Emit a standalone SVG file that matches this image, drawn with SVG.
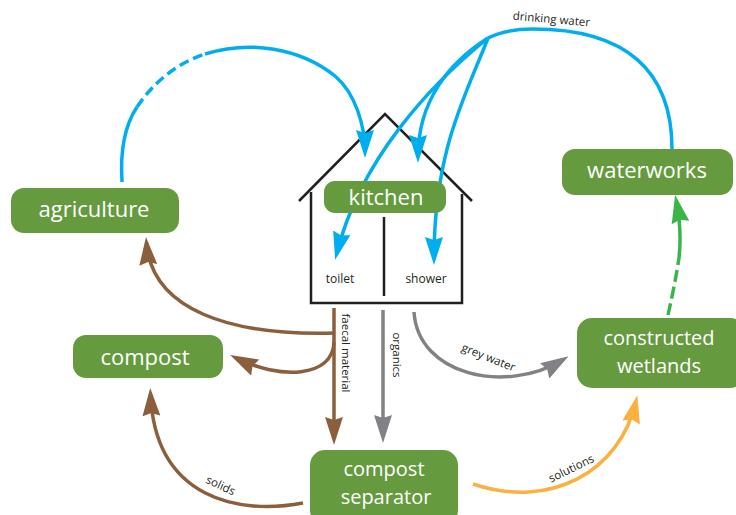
<svg xmlns="http://www.w3.org/2000/svg" width="736" height="515" viewBox="0 0 736 515">
<style>
.node rect{fill:#659a3f}
.node text{font-family:"Open Sans","Noto Sans",sans-serif;font-size:22px;fill:#ffffff;text-anchor:middle}
.node text.two{font-size:20px}
.lbl{font-family:"Open Sans","Noto Sans",sans-serif;font-size:11.5px;fill:#231f20;text-anchor:middle}
.c{fill:none;stroke-width:3.5}
.blue{stroke:#00aeef}
.brown{stroke:#8b5e3c}
.gray{stroke:#808285}
.orange{stroke:#fbb040}
.green{stroke:#39b54a}
.dash{stroke-dasharray:10 5}
.dashg{stroke-dasharray:12 5}
.house{fill:none;stroke:#231f20;stroke-width:2.5}
</style>
<defs>
<marker id="aBlue" markerUnits="userSpaceOnUse" markerWidth="28" markerHeight="18" viewBox="0 0 28 18" refX="22" refY="9" orient="auto"><path d="M0,0 L28,9 L0,18 L3,9 z" fill="#00aeef"/></marker>
<marker id="aBrown" markerUnits="userSpaceOnUse" markerWidth="28" markerHeight="18" viewBox="0 0 28 18" refX="22" refY="9" orient="auto"><path d="M0,0 L28,9 L0,18 L3,9 z" fill="#8b5e3c"/></marker>
<marker id="aGray" markerUnits="userSpaceOnUse" markerWidth="28" markerHeight="18" viewBox="0 0 28 18" refX="22" refY="9" orient="auto"><path d="M0,0 L28,9 L0,18 L3,9 z" fill="#808285"/></marker>
<marker id="aOrange" markerUnits="userSpaceOnUse" markerWidth="28" markerHeight="18" viewBox="0 0 28 18" refX="22" refY="9" orient="auto"><path d="M0,0 L28,9 L0,18 L3,9 z" fill="#fbb040"/></marker>
<marker id="aGreen" markerUnits="userSpaceOnUse" markerWidth="28" markerHeight="18" viewBox="0 0 28 18" refX="22" refY="9" orient="auto"><path d="M0,0 L28,9 L0,18 L3,9 z" fill="#39b54a"/></marker>
</defs>
<rect width="736" height="515" fill="#ffffff"/>

<g id="house">
<polyline class="house" points="299,201 385,114 472,201"/>
<polyline class="house" points="311,192 311,303 462,303 462,194"/>
<line class="house" x1="384" y1="217" x2="384" y2="296"/>
<text class="lbl" x="340" y="283" style="font-size:12px">toilet</text>
<text class="lbl" x="426" y="283" style="font-size:12px">shower</text>
</g>

<g id="connectors">
<!-- agriculture to kitchen -->
<path class="c blue" d="M122,182 C120,150 125,125 137,107"/>
<path class="c blue dash" d="M137,107 C155,80 180,62 205,54"/>
<path class="c blue" d="M205,54 C250,40 300,48 335,76 C355,93 365,125 365,152" marker-end="url(#aBlue)"/>
<!-- drinking water -->
<path class="c blue" d="M672,149 C672,70 625,29 533,29 C512,29 498,33 488,38"/>
<path class="c blue" d="M488,38 C430,85 360,160 336.6,254" marker-end="url(#aBlue)"/>
<path class="c blue" d="M488,38 C450,62 418,100 418,157" marker-end="url(#aBlue)"/>
<path class="c blue" d="M488,38 C466,95 434,150 434,259" marker-end="url(#aBlue)"/>
<text class="lbl" transform="translate(551,23) rotate(5)">drinking water</text>
<!-- faecal material -->
<path class="c brown" d="M334,308 V439" marker-end="url(#aBrown)"/>
<path class="c brown" d="M334,333 C230,336 152,310 146.5,243" marker-end="url(#aBrown)"/>
<path class="c brown" d="M334,342 C333,378 280,380 235.5,357.7" marker-end="url(#aBrown)"/>
<text class="lbl" transform="translate(342,353) rotate(90)">faecal material</text>
<!-- organics -->
<path class="c gray" d="M383,310 V437" marker-end="url(#aGray)"/>
<text class="lbl" transform="translate(393,355) rotate(90)">organics</text>
<!-- grey water -->
<path class="c gray" d="M414,312 C418,375 505,395 563.4,359.4" marker-end="url(#aGray)"/>
<text class="lbl" transform="translate(487,361) rotate(22)">grey water</text>
<!-- solids -->
<path class="c brown" d="M303,503 C240,515 155,500 150.5,394" marker-end="url(#aBrown)"/>
<text class="lbl" transform="translate(219,489) rotate(25)">solids</text>
<!-- solutions -->
<path class="c orange" d="M473,484 C550,510 620,472 636,401" marker-end="url(#aOrange)"/>
<text class="lbl" transform="translate(573,472) rotate(-26)">solutions</text>
<!-- wetlands to waterworks -->
<path class="c green dashg" d="M668,315 C672,297 676,278 679,258"/>
<path class="c green" d="M679,258 C681,240 680,220 676.3,201" marker-end="url(#aGreen)"/>
</g>

<g id="agriculture" class="node"><rect x="11" y="188" width="168" height="45" rx="13"/><text x="94" y="217">agriculture</text></g>
<g id="compost" class="node"><rect x="73" y="335" width="150" height="43" rx="13"/><text x="145" y="365">compost</text></g>
<g id="kitchen" class="node"><rect x="324" y="181" width="122" height="32" rx="11"/><text x="386" y="205">kitchen</text></g>
<g id="waterworks" class="node"><rect x="562" y="149" width="171" height="46" rx="13"/><text x="647" y="178">waterworks</text></g>
<g id="wetlands" class="node"><rect x="577" y="318" width="168" height="70" rx="15"/><text class="two" x="659" y="345">constructed<tspan x="659" dy="27.5">wetlands</tspan></text></g>
<g id="separator" class="node"><rect x="310" y="450" width="148" height="75" rx="15"/><text class="two" x="384" y="476">compost<tspan x="386" dy="27.5">separator</tspan></text></g>
</svg>
